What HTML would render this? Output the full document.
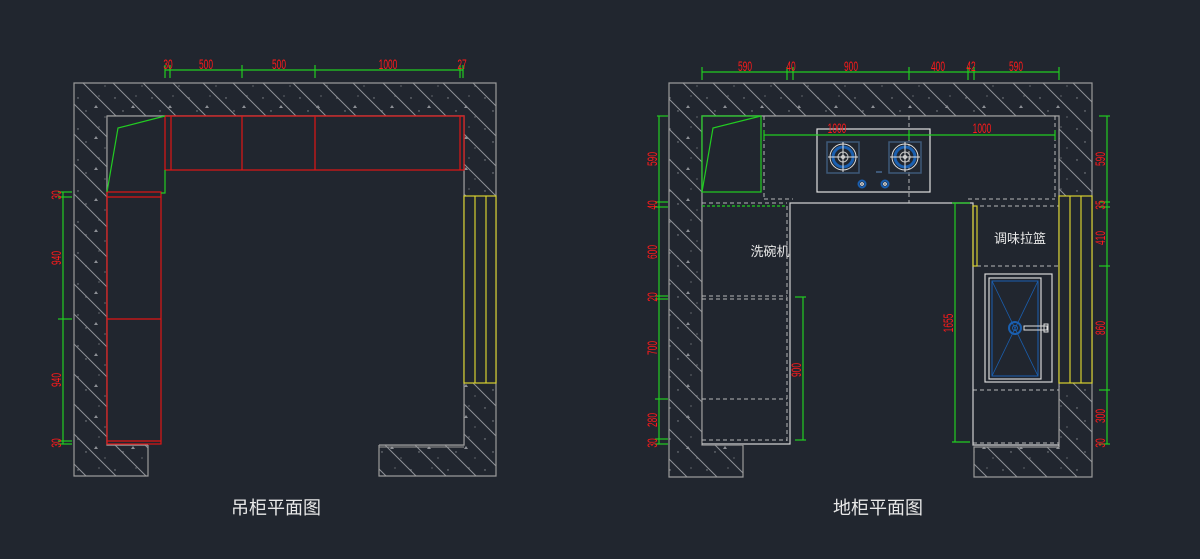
<!DOCTYPE html>
<html><head><meta charset="utf-8"><style>
html,body{margin:0;padding:0;background:#21262f;}
svg{display:block}
.d{font-family:"Liberation Sans Narrow","Liberation Sans",sans-serif;font-size:14px;fill:#ff1a1a;}
.t{font-family:"Liberation Sans","Noto Sans CJK SC",sans-serif;fill:#e8e8e8;}
</style></head><body>
<svg width="1200" height="559" viewBox="0 0 1200 559" xmlns="http://www.w3.org/2000/svg">
<defs>
<pattern id="h" width="30" height="30" patternUnits="userSpaceOnUse">
<path d="M0 0L30 30M-15 15L15 45M15 -15L45 15" stroke="#8d9096" stroke-width="1"/>
</pattern>
<pattern id="dt" width="37" height="31" patternUnits="userSpaceOnUse">
<circle cx="4" cy="5" r="0.7" fill="#8d9096"/><circle cx="25" cy="3" r="0.6" fill="#8d9096"/>
<circle cx="12" cy="18" r="0.7" fill="#8d9096"/><circle cx="31" cy="24" r="0.6" fill="#8d9096"/>
<path d="M20 15 l2 -3 l2 3z" fill="#8d9096"/>
</pattern>
</defs>
<rect width="1200" height="559" fill="#21262f"/>

<!-- LEFT DRAWING -->
<g>
<path d="M74 83H496V476H379V445H464V116H107V445H148V476H74Z" fill="url(#h)"/>
<path d="M74 83H496V476H379V445H464V116H107V445H148V476H74Z" fill="url(#dt)" stroke="#9a9a9a" stroke-width="1.2"/>
<rect x="107" y="116" width="357" height="329" fill="#21262f"/>
<path d="M107 116V445H148 M379 445H464V116H107" fill="none" stroke="#9a9a9a" stroke-width="1.2"/>
<line x1="379" y1="447" x2="464" y2="447" stroke="#9a9a9a"/>
<g fill="none" stroke="#e01515" stroke-width="1.2">
<rect x="165" y="116" width="299" height="54"/>
<line x1="171" y1="116" x2="171" y2="170"/><line x1="242" y1="116" x2="242" y2="170"/>
<line x1="315" y1="116" x2="315" y2="170"/><line x1="460" y1="116" x2="460" y2="170"/>
<rect x="107" y="192" width="54" height="252"/>
<line x1="107" y1="197" x2="161" y2="197"/><line x1="107" y1="319" x2="161" y2="319"/>
<line x1="107" y1="441" x2="161" y2="441"/>
</g>
<g fill="none" stroke="#22cc22" stroke-width="1.2">
<polyline points="107,192 118,128 165,116"/>
<polyline points="165,170 165,193 161,193"/>
</g>
<g fill="#21262f" stroke="#d8d030" stroke-width="1.2">
<rect x="464" y="196" width="32" height="187"/>
<line x1="475" y1="196" x2="475" y2="383"/><line x1="486" y1="196" x2="486" y2="383"/>
</g>
<g stroke="#22cc22" stroke-width="1.2">
<line x1="165" y1="70" x2="463" y2="70"/>
<line x1="165" y1="65" x2="165" y2="78"/><line x1="170" y1="65" x2="170" y2="78"/>
<line x1="242" y1="65" x2="242" y2="78"/><line x1="315" y1="65" x2="315" y2="78"/>
<line x1="460" y1="65" x2="460" y2="78"/><line x1="463" y1="65" x2="463" y2="78"/>
<line x1="63" y1="192" x2="63" y2="444"/>
<line x1="58" y1="192" x2="72" y2="192"/><line x1="58" y1="197" x2="72" y2="197"/>
<line x1="58" y1="319" x2="72" y2="319"/><line x1="58" y1="441" x2="72" y2="441"/>
<line x1="58" y1="444" x2="72" y2="444"/>
</g>
<g class="d" text-anchor="middle">
<text transform="translate(168,69) scale(0.6,1)">30</text><text transform="translate(206,69) scale(0.6,1)">500</text><text transform="translate(279,69) scale(0.6,1)">500</text>
<text transform="translate(388,69) scale(0.6,1)">1000</text><text transform="translate(462,69) scale(0.6,1)">27</text>
<text transform="translate(61,195) rotate(-90) scale(0.6,1)">30</text>
<text transform="translate(61,258) rotate(-90) scale(0.6,1)">940</text>
<text transform="translate(61,380) rotate(-90) scale(0.6,1)">940</text>
<text transform="translate(61,443) rotate(-90) scale(0.6,1)">30</text>
</g>
<text class="t" x="276" y="514" font-size="18" text-anchor="middle">吊柜平面图</text>
</g>

<!-- RIGHT DRAWING -->
<g>
<path d="M669 83H1092V477H974V447H1059V116H702V445H743V477H669Z" fill="url(#h)"/>
<path d="M669 83H1092V477H974V447H1059V116H702V445H743V477H669Z" fill="url(#dt)" stroke="#9a9a9a" stroke-width="1.2"/>
<rect x="702" y="116" width="357" height="329" fill="#21262f"/>
<path d="M702 445V116H1059V447" fill="none" stroke="#9a9a9a" stroke-width="1.2"/>
<g fill="none" stroke="#22cc22" stroke-width="1.2">
<rect x="702" y="116" width="59" height="76"/>
<polyline points="702,192 713,128 761,116"/>
<line x1="702" y1="206" x2="787" y2="206" stroke-dasharray="3,2"/>
</g>
<g fill="none" stroke="#b8b8b8" stroke-width="1" stroke-dasharray="4,3">
<line x1="764" y1="116" x2="764" y2="200"/>
<line x1="1055" y1="116" x2="1055" y2="200"/>
<line x1="909" y1="116" x2="909" y2="203"/>
<line x1="764" y1="199" x2="793" y2="199"/>
<line x1="968" y1="199" x2="1055" y2="199"/>
<line x1="702" y1="203" x2="787" y2="203"/>
<line x1="787" y1="206" x2="787" y2="443"/>
<line x1="702" y1="296" x2="787" y2="296"/><line x1="702" y1="299" x2="787" y2="299"/>
<line x1="702" y1="399" x2="787" y2="399"/>
<line x1="702" y1="440" x2="787" y2="440"/>
<line x1="973" y1="206" x2="1059" y2="206"/>
<line x1="977" y1="266" x2="1059" y2="266"/>
<line x1="973" y1="390" x2="1059" y2="390"/>
<line x1="973" y1="443" x2="1059" y2="443"/>
</g>
<g fill="none" stroke="#d0d0d0" stroke-width="1.2">
<polyline points="702,444 790,444 790,203 973,203 973,445 1059,445"/>
</g>
<rect x="817" y="129" width="113" height="63" fill="none" stroke="#e0e0e0" stroke-width="1.2"/>
<g>
<rect x="827" y="142" width="32" height="31" fill="none" stroke="#3e5878" stroke-width="1.5"/>
<rect x="889" y="142" width="32" height="31" fill="none" stroke="#3e5878" stroke-width="1.5"/>
<g fill="none">
<circle cx="843" cy="157" r="13" stroke="#e0e0e0"/><circle cx="843" cy="157" r="10" stroke="#1a5fb0" stroke-width="3"/>
<circle cx="843" cy="157" r="5" stroke="#c0c0c0"/><circle cx="843" cy="157" r="1.5" stroke="#c0c0c0"/>
<circle cx="905" cy="157" r="13" stroke="#e0e0e0"/><circle cx="905" cy="157" r="10" stroke="#1a5fb0" stroke-width="3"/>
<circle cx="905" cy="157" r="5" stroke="#c0c0c0"/><circle cx="905" cy="157" r="1.5" stroke="#c0c0c0"/>
</g>
<g stroke="#e0e0e0"><line x1="828" y1="157" x2="858" y2="157"/><line x1="843" y1="142" x2="843" y2="172"/>
<line x1="890" y1="157" x2="920" y2="157"/><line x1="905" y1="142" x2="905" y2="172"/></g>
<rect x="876" y="171" width="6" height="2" fill="#3e5878"/>
<circle cx="862" cy="184" r="3.5" fill="none" stroke="#1a5fb0" stroke-width="2"/><circle cx="862" cy="184" r="1.3" fill="none" stroke="#fff"/>
<circle cx="885" cy="184" r="3.5" fill="none" stroke="#1a5fb0" stroke-width="2"/><circle cx="885" cy="184" r="1.3" fill="none" stroke="#fff"/>
</g>
<rect x="973" y="206" width="4" height="60" fill="none" stroke="#d8d030" stroke-width="1.2"/>
<rect x="985" y="274" width="67" height="108" fill="none" stroke="#d8d8d8" stroke-width="1.2"/>
<rect x="989" y="278" width="52" height="101" fill="none" stroke="#d8d8d8" stroke-width="1.2"/>
<rect x="992" y="281" width="46" height="95" fill="none" stroke="#1a5fb0" stroke-width="1"/>
<path d="M992 281L1038 376M1038 281L992 376" stroke="#1a5fb0" stroke-width="0.8"/>
<circle cx="1015" cy="328" r="6" fill="none" stroke="#1a5fb0" stroke-width="2"/>
<circle cx="1015" cy="328" r="2.5" fill="none" stroke="#1a5fb0"/>
<rect x="1024" y="326" width="23" height="4" fill="none" stroke="#e0e0e0"/>
<rect x="1044" y="324" width="4" height="8" fill="none" stroke="#e0e0e0"/>
<g fill="#21262f" stroke="#d8d030" stroke-width="1.2">
<rect x="1059" y="196" width="33" height="187"/>
<line x1="1070" y1="196" x2="1070" y2="383"/><line x1="1081" y1="196" x2="1081" y2="383"/>
</g>
<g stroke="#22cc22" stroke-width="1.2">
<line x1="702" y1="72" x2="1059" y2="72"/>
<line x1="702" y1="67" x2="702" y2="80"/><line x1="787" y1="67" x2="787" y2="80"/>
<line x1="793" y1="67" x2="793" y2="80"/><line x1="909" y1="67" x2="909" y2="80"/>
<line x1="968" y1="67" x2="968" y2="80"/><line x1="974" y1="67" x2="974" y2="80"/>
<line x1="1059" y1="67" x2="1059" y2="80"/>
<line x1="764" y1="135" x2="1055" y2="135"/>
<line x1="764" y1="130" x2="764" y2="140"/><line x1="909" y1="130" x2="909" y2="140"/><line x1="1055" y1="130" x2="1055" y2="140"/>
<line x1="659" y1="116" x2="659" y2="444"/>
<line x1="657" y1="116" x2="668" y2="116"/><line x1="655" y1="202" x2="668" y2="202"/>
<line x1="655" y1="207" x2="668" y2="207"/><line x1="655" y1="296" x2="668" y2="296"/>
<line x1="655" y1="299" x2="668" y2="299"/><line x1="655" y1="399" x2="668" y2="399"/>
<line x1="655" y1="439" x2="668" y2="439"/><line x1="655" y1="444" x2="668" y2="444"/>
<line x1="1107" y1="116" x2="1107" y2="444"/>
<line x1="1099" y1="116" x2="1110" y2="116"/><line x1="1099" y1="202" x2="1110" y2="202"/>
<line x1="1099" y1="207" x2="1110" y2="207"/><line x1="1099" y1="266" x2="1110" y2="266"/>
<line x1="1099" y1="390" x2="1110" y2="390"/><line x1="1099" y1="444" x2="1110" y2="444"/>
<line x1="803" y1="297" x2="803" y2="440"/>
<line x1="795" y1="297" x2="806" y2="297"/><line x1="795" y1="440" x2="806" y2="440"/>
<line x1="955" y1="203" x2="955" y2="442"/>
<line x1="952" y1="203" x2="970" y2="203"/><line x1="952" y1="442" x2="970" y2="442"/>
</g>
<g class="d" text-anchor="middle">
<text transform="translate(745,71) scale(0.6,1)">590</text><text transform="translate(791,71) scale(0.6,1)">40</text><text transform="translate(851,71) scale(0.6,1)">900</text>
<text transform="translate(938,71) scale(0.6,1)">400</text><text transform="translate(971,71) scale(0.6,1)">42</text><text transform="translate(1016,71) scale(0.6,1)">590</text>
<text transform="translate(837,133) scale(0.6,1)">1000</text><text transform="translate(982,133) scale(0.6,1)">1000</text>
<text transform="translate(657,159) rotate(-90) scale(0.6,1)">590</text>
<text transform="translate(657,205) rotate(-90) scale(0.6,1)">40</text>
<text transform="translate(657,252) rotate(-90) scale(0.6,1)">600</text>
<text transform="translate(657,297) rotate(-90) scale(0.6,1)">20</text>
<text transform="translate(657,348) rotate(-90) scale(0.6,1)">700</text>
<text transform="translate(657,420) rotate(-90) scale(0.6,1)">280</text>
<text transform="translate(657,443) rotate(-90) scale(0.6,1)">30</text>
<text transform="translate(1105,159) rotate(-90) scale(0.6,1)">590</text>
<text transform="translate(1105,205) rotate(-90) scale(0.6,1)">35</text>
<text transform="translate(1105,238) rotate(-90) scale(0.6,1)">410</text>
<text transform="translate(1105,328) rotate(-90) scale(0.6,1)">860</text>
<text transform="translate(1105,416) rotate(-90) scale(0.6,1)">300</text>
<text transform="translate(1105,443) rotate(-90) scale(0.6,1)">30</text>
<text transform="translate(801,370) rotate(-90) scale(0.6,1)">900</text>
<text transform="translate(953,323) rotate(-90) scale(0.6,1)">1655</text>
</g>
<text class="t" x="770" y="256" font-size="13" text-anchor="middle">洗碗机</text>
<text class="t" x="1020" y="243" font-size="13" text-anchor="middle">调味拉篮</text>
<text class="t" x="878" y="514" font-size="18" text-anchor="middle">地柜平面图</text>
</g>
</svg>
</body></html>
